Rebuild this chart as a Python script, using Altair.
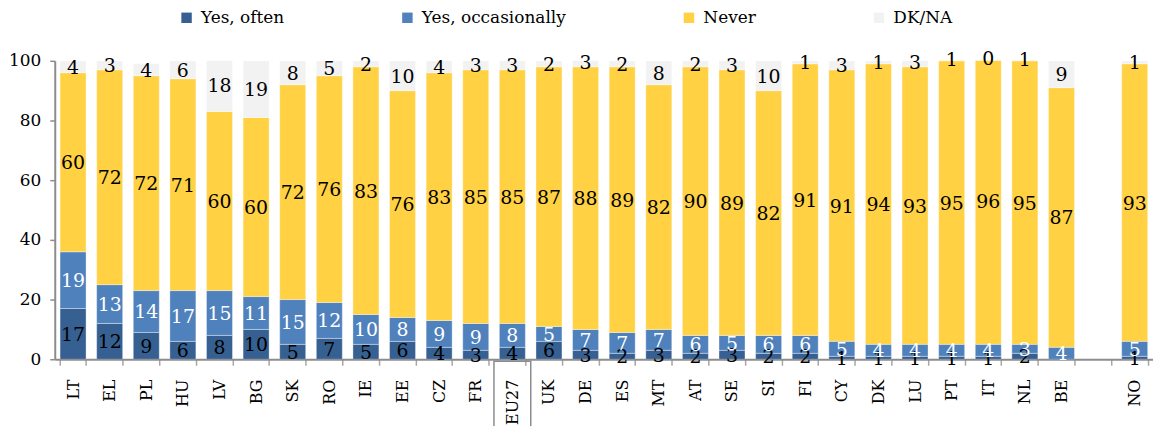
import altair as alt
import pandas as pd

countries = ["LT", "EL", "PL", "HU", "LV", "BG", "SK", "RO", "IE", "EE", "CZ", "FR", "EU27",
             "UK", "DE", "ES", "MT", "AT", "SE", "SI", "FI", "CY", "DK", "LU", "PT", "IT",
             "NL", "BE", " ", "NO"]
often = [17, 12, 9, 6, 8, 10, 5, 7, 5, 6, 4, 3, 4, 6, 3, 2, 3, 2, 3, 2, 2, 1, 1, 1, 1, 1, 2, None, None, 1]
occasionally = [19, 13, 14, 17, 15, 11, 15, 12, 10, 8, 9, 9, 8, 5, 7, 7, 7, 6, 5, 6, 6, 5, 4, 4, 4, 4, 3, 4, None, 5]
never = [60, 72, 72, 71, 60, 60, 72, 76, 83, 76, 83, 85, 85, 87, 88, 89, 82, 90, 89, 82, 91, 91, 94, 93, 95, 96, 95, 87, None, 93]
dkna = [4, 3, 4, 6, 18, 19, 8, 5, 2, 10, 4, 3, 3, 2, 3, 2, 8, 2, 3, 10, 1, 3, 1, 3, 1, 0, 1, 9, None, 1]

series_names = ["Yes, often", "Yes, occasionally", "Never", "DK/NA"]
series_colors = ["#376092", "#4F81BD", "#FFD143", "#F2F2F2"]
label_colors = ["black", "white", "black", "black"]

rows = []
for i, c in enumerate(countries):
    for k, vals in enumerate([often, occasionally, never, dkna]):
        v = vals[i]
        if v is None:
            continue
        rows.append({"country": c, "series": series_names[k], "order": k,
                     "value": v, "lab": label_colors[k]})
df = pd.DataFrame(rows)

FONT = "DejaVu Serif"

xscale = alt.Scale(domain=countries, paddingInner=0.29, paddingOuter=0.145)
yscale = alt.Scale(domain=[0, 100], nice=False)

base = alt.Chart(df).transform_stack(
    stack="value", groupby=["country"], as_=["y0", "y1"],
    sort=[alt.SortField("order", order="ascending")]
).transform_calculate(mid="(datum.y0 + datum.y1) / 2")

bars = base.mark_bar(stroke="white", strokeWidth=0.8, strokeOpacity=0.45, clip=True).encode(
    x=alt.X("country:N", scale=xscale, sort=countries,
            axis=alt.Axis(title=None, labelAngle=-90, labelFontSize=16, labelFont=FONT,
                          labelColor="black", domainColor="#8c8c8c", domainWidth=2,
                          tickColor="#a6a6a6", tickSize=6, tickWidth=1.5, tickBand="extent",
                          labelPadding=14)),
    y=alt.Y("y0:Q", scale=yscale,
            axis=alt.Axis(title=None, values=[0, 20, 40, 60, 80, 100], labelFontSize=17,
                          labelFont=FONT, labelColor="black", domainColor="#8c8c8c",
                          domainWidth=2, tickColor="#8c8c8c", tickSize=5, tickWidth=1.5,
                          labelPadding=9, grid=False)),
    y2="y1:Q",
    color=alt.Color("series:N", scale=alt.Scale(domain=series_names, range=series_colors),
                    legend=alt.Legend(title=None, orient="none", direction="horizontal",
                                      legendX=124, legendY=-52, symbolType="square",
                                      symbolSize=110, symbolStrokeWidth=0,
                                      labelFontSize=17, labelFont=FONT, labelColor="black",
                                      columnPadding=115, labelOffset=6)),
    order=alt.Order("order:Q"),
)

labels = base.mark_text(font=FONT, fontSize=19, baseline="middle", align="center", dy=1).encode(
    x=alt.X("country:N", scale=xscale, sort=countries),
    y=alt.Y("mid:Q", scale=yscale),
    text=alt.Text("value:Q"),
    color=alt.Color("lab:N", scale=None),
)

box_df = pd.DataFrame({"country": ["EU27"]})
box = alt.Chart(box_df).mark_bar(width=37, fillOpacity=0, stroke="#8c8c8c", strokeWidth=1.5).encode(
    x=alt.X("country:N", scale=xscale, sort=countries),
    y=alt.value(302),
    y2=alt.value(374),
)

chart = alt.layer(bars, labels, box).properties(
    width=1104, height=300,
    autosize=alt.AutoSizeParams(type="none"),
    padding={"left": 47, "top": 52, "right": 0, "bottom": 66},
).configure_view(stroke=None)

chart.save("out.html", embed_options={"renderer": "svg", "actions": False})
